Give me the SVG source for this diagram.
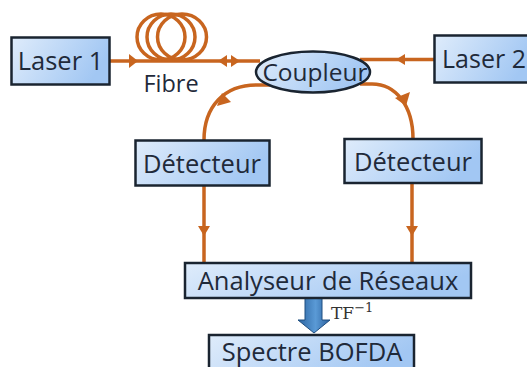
<svg xmlns="http://www.w3.org/2000/svg" width="527" height="367" viewBox="0 0 527 367">
<style>
.box{fill:url(#g);stroke:#1a2430;stroke-width:2.5}
.t{font-family:"Open Sans","Noto Sans",sans-serif;font-size:25.500px;fill:#1f2a3a;text-anchor:middle}
.w{fill:none;stroke:#c8651f;stroke-width:3.500}
.h{fill:#c8651f}
</style>
<defs>
<linearGradient id="g" x1="0" y1="0" x2="1" y2="0.300"><stop offset="0" stop-color="#dfecfb"/><stop offset="1" stop-color="#a2c7f3"/></linearGradient>
<linearGradient id="a" x1="0" y1="0" x2="1" y2="0"><stop offset="0" stop-color="#2a63a0"/><stop offset=".55" stop-color="#5a9ad6"/><stop offset="1" stop-color="#2a5f9c"/></linearGradient>
</defs>
<g id="connectors">
<path class="w" d="M109 61H260"/>
<path class="w" d="M360 59.500H434"/>
<path class="w" d="M270 85H256C225 85 204 106 204 140"/>
<path class="w" d="M360 84H372C396 84 413 106 413 139"/>
<path class="w" d="M204 186V263"/>
<path class="w" d="M412 183V263"/>
<ellipse class="w" cx="161" cy="37" rx="24" ry="23"/>
<ellipse class="w" cx="171" cy="37" rx="24" ry="23"/>
<ellipse class="w" cx="182" cy="37" rx="24.500" ry="23"/>
<path class="h" d="M129 54L138 61L129 68Z"/>
<path class="h" d="M227 55L218 61L227 67Z"/>
<path class="h" d="M231 55L240 61L231 67Z"/>
<path class="h" d="M405 54L396 59.500L405 65Z"/>
<path class="h" d="M222 93L217 106L231 102Z"/>
<path class="h" d="M395 98L406 106L410 92Z"/>
<path class="h" d="M198 226L204 236L210 226Z"/>
<path class="h" d="M406 226L412 236L418 226Z"/>
<path d="M305 298H322V320H330L314 333L298 320H305Z" fill="url(#a)" stroke="#1f4e80" stroke-width="1"/>
</g>
<g id="laser1"><rect class="box" x="11.500" y="37.500" width="98" height="47"/><text class="t" x="60.500" y="70">Laser 1</text></g>
<g id="fibre"><text class="t" x="171" y="92" style="font-size:23.500px">Fibre</text></g>
<g id="laser2"><rect class="box" x="434.500" y="35.500" width="100" height="47"/><text class="t" x="484" y="68" style="font-size:25px">Laser 2</text></g>
<g id="coupleur"><ellipse class="box" cx="313" cy="72" rx="57" ry="20.500"/><text class="t" x="315" y="81" style="font-size:24.500px">Coupleur</text></g>
<g id="detecteur1"><rect class="box" x="135.500" y="140.500" width="134" height="45"/><text class="t" x="202" y="173">Détecteur</text></g>
<g id="detecteur2"><rect class="box" x="344.500" y="139" width="137" height="44"/><text class="t" x="413" y="171">Détecteur</text></g>
<g id="analyseur"><rect class="box" x="185" y="263" width="286" height="35"/><text class="t" x="328" y="290">Analyseur de Réseaux</text></g>
<g id="tf"><text x="331" y="319" font-family="'DejaVu Serif','Liberation Serif',serif" font-size="17" fill="#333">TF<tspan dy="-7" font-size="13">−1</tspan></text></g>
<g id="spectre"><rect class="box" x="209" y="335" width="205" height="40"/><text class="t" x="312" y="360.500">Spectre BOFDA</text></g>
</svg>
